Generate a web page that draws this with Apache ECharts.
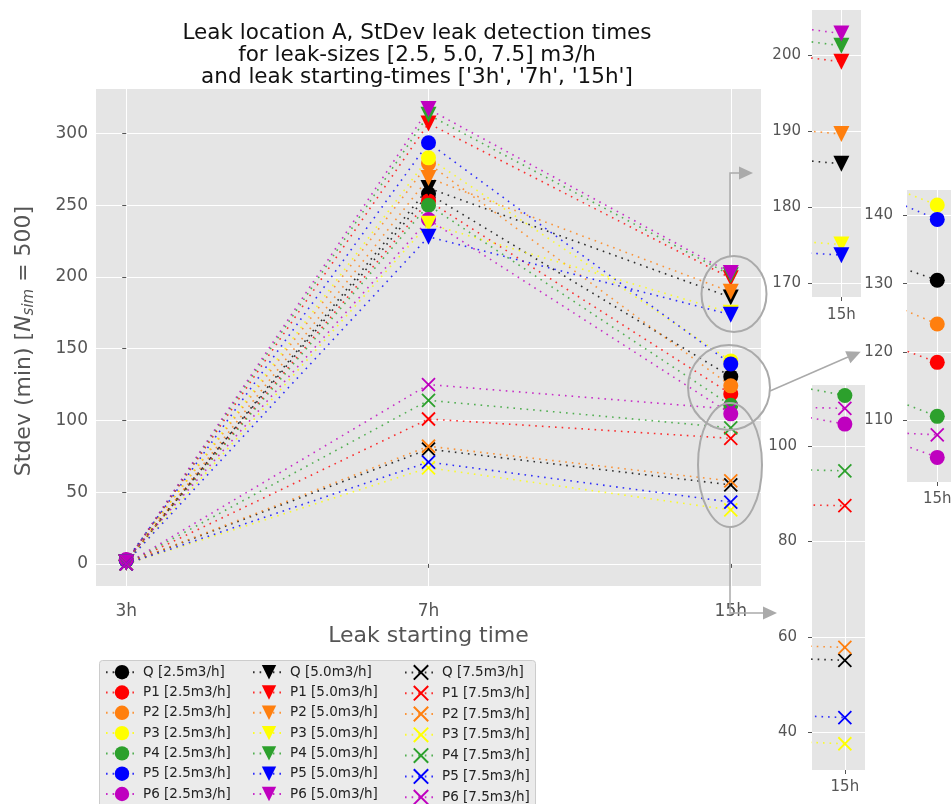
<!DOCTYPE html>
<html>
<head>
<meta charset="utf-8">
<script src="https://cdn.jsdelivr.net/npm/echarts@6/dist/echarts.min.js"></script>
<style>
html, body { margin: 0; padding: 0; background: #fff; }
#chart { width: 951px; height: 804px; }
</style>
</head>
<body>
<div id="chart"></div>
<script>
var categories = ['3h', '7h', '15h'];
var sensors = ['Q', 'P1', 'P2', 'P3', 'P4', 'P5', 'P6'];
var leakSizes = ['2.5', '5.0', '7.5'];
var sensorColors = ['#000000', '#ff0000', '#ff7f0e', '#ffff00', '#2ca02c', '#0000ff', '#bf00bf'];

// stdev of detection time (min), per sensor Q..P6, at 3h / 7h / 15h
var sd25 = [[2.5, 258, 130.5], [2.5, 253, 118.5], [2.5, 279, 124.1], [2.5, 283, 141.5],
            [2.5, 250, 110.6], [2.5, 293.5, 139.4], [3, 240, 104.6]];
var sd50 = [[1, 262, 185.7], [1, 307, 199.1], [1, 269, 189.6], [1, 237, 175.1],
            [1, 313, 201.2], [1, 228, 173.7], [1, 317, 202.8]];
var sd75 = [[0, 80, 55.1], [0, 101, 87.5], [0, 82, 57.8], [0, 67, 37.6],
            [0, 114, 94.8], [0, 71, 43.1], [0, 125, 107.9]];

var sdSets = [sd25, sd50, sd75];

// one marker per leak size
var markers = [
    { symbol: 'circle', size: 15, rotate: 0, border: 0 },
    { symbol: 'triangle', size: 16, rotate: 180, border: 0 },
    { symbol: 'path://M0,0L10,10M10,0L0,10', size: 13, rotate: 0, border: 1.8 }
];

// main plot + the 3 zoomed insets (triangles, circles, crosses)
var grids = [
    { left: 96, top: 89, width: 665, height: 497 },
    { left: 812, top: 10, width: 49, height: 287 },
    { left: 907, top: 190, width: 44, height: 292 },
    { left: 812, top: 385, width: 53, height: 385 }
];
var xRanges = [[-0.1, 2.1], [1.9955, 2.003], [1.9879, 2.0055], [1.9907, 2.0057]];
var yRanges = [[-15.4, 331], [168.2, 205.9], [101.0, 143.7], [32.1, 112.8]];
var yStep = [50, 10, 10, 20];
var yLabelMargin = [8, 11, 14, 15];
var xLabelMargin = [17, 11, 10, 10];

function xLabel(v) {
    return (Math.round(v) === v && categories[v] !== undefined) ? categories[v] : '';
}
function yLabel(v) {
    return (Math.round(v) === v && v % 10 === 0) ? String(v) : '';
}
function ticksIn(range, step) {
    var out = [];
    for (var t = Math.ceil(range[0] / step) * step; t <= range[1]; t += step) out.push(t);
    return out;
}

var myChart = echarts.init(document.getElementById('chart'), null, { renderer: 'canvas' });

var gridList = [], xAxes = [], yAxes = [], series = [];
grids.forEach(function (g, gi) {
    gridList.push({
        left: g.left, top: g.top, width: g.width, height: g.height,
        show: true, backgroundColor: '#e5e5e5', borderWidth: 0,
        containLabel: false, outerBoundsMode: 'none'
    });
    var fs = gi === 0 ? 17 : 15;
    xAxes.push({
        type: 'value', gridIndex: gi,
        min: xRanges[gi][0], max: xRanges[gi][1],
        splitNumber: gi === 0 ? 2 : 1,
        axisLine: { show: false },
        axisTick: { show: true, length: 4, lineStyle: { color: '#555' }, customValues: ticksIn(xRanges[gi], 1) },
        axisLabel: { formatter: xLabel, color: '#555', fontSize: fs, margin: xLabelMargin[gi] },
        splitLine: { show: true, lineStyle: { color: '#fff', width: 1 } },
        name: gi === 0 ? 'Leak starting time' : '',
        nameLocation: 'middle', nameGap: 38,
        nameTextStyle: { color: '#555', fontSize: 22 }
    });
    yAxes.push({
        type: 'value', gridIndex: gi,
        min: yRanges[gi][0], max: yRanges[gi][1],
        splitNumber: gi === 0 ? 7 : 4,
        axisLine: { show: false },
        axisTick: { show: true, length: 4, lineStyle: { color: '#555' }, customValues: ticksIn(yRanges[gi], yStep[gi]) },
        axisLabel: { formatter: yLabel, color: '#555', fontSize: fs, margin: yLabelMargin[gi] },
        splitLine: { show: true, lineStyle: { color: '#fff', width: 1 } }
    });

    sdSets.forEach(function (set, si) {
        var m = markers[si];
        set.forEach(function (vals, i) {
            var c = sensorColors[i];
            series.push({
                type: 'line',
                name: sensors[i] + ' [' + leakSizes[si] + 'm3/h]',
                xAxisIndex: gi, yAxisIndex: gi,
                data: vals.map(function (v, k) { return [k, v]; }),
                symbol: m.symbol, symbolSize: m.size, symbolRotate: m.rotate,
                showSymbol: true, clip: true, silent: true,
                lineStyle: { color: c, width: 1.6, type: [1.6, 5], opacity: 0.8 },
                itemStyle: { color: c, borderColor: c, borderWidth: m.border },
                emphasis: { disabled: true }
            });
        });
    });
});

// the cross column gets a smaller gap, its stroked icons are a bit taller
function legendFor(si, left, top, gap) {
    return {
        orient: 'vertical', left: left, top: top, height: 300, padding: 0,
        itemWidth: 32, itemHeight: 18, itemGap: gap,
        selectedMode: false,
        data: sensors.map(function (n) { return n + ' [' + leakSizes[si] + 'm3/h]'; }),
        textStyle: { fontSize: 13.5, color: '#222' }
    };
}

var grey = '#aaaaaa';
option = {
    animation: false,
    textStyle: { fontFamily: 'DejaVu Sans' },
    title: {
        text: 'Leak location A, StDev leak detection times\nfor leak-sizes [2.5, 5.0, 7.5] m3/h\nand leak starting-times [\'3h\', \'7h\', \'15h\']',
        left: 417, top: 22, textAlign: 'center', padding: 0,
        textStyle: { fontSize: 21.5, fontWeight: 'normal', color: '#111', lineHeight: 22 }
    },
    legend: [legendFor(0, 105, 665, 5.9), legendFor(1, 252, 665, 5.9), legendFor(2, 404, 664.2, 4.4)],
    grid: gridList,
    xAxis: xAxes,
    yAxis: yAxes,
    series: series,
    graphic: [
        { type: 'rect', z: 1, shape: { x: 99.5, y: 660.5, width: 436, height: 150, r: 3 },
          style: { fill: '#ebebeb', stroke: '#cccccc', lineWidth: 1 } },
        { type: 'text', x: 24, y: 341, rotation: Math.PI / 2, z: 10,
          style: {
              text: '{a|Stdev (min) [}{n|N}{s|sim}{a| = 500]}',
              align: 'center', verticalAlign: 'middle',
              rich: {
                  a: { fontSize: 22, fill: '#555', fontFamily: 'DejaVu Sans' },
                  n: { fontSize: 22, fill: '#555', fontStyle: 'italic', fontFamily: 'DejaVu Sans' },
                  s: { fontSize: 15, fill: '#555', fontStyle: 'italic', fontFamily: 'DejaVu Sans', padding: [10, 0, 0, 0] }
              }
          } },
        // zoom ellipses and arrows
        { type: 'ellipse', z: 100, shape: { cx: 734, cy: 294, rx: 32.5, ry: 38 },
          style: { fill: 'none', stroke: grey, lineWidth: 2 } },
        { type: 'ellipse', z: 100, shape: { cx: 729, cy: 387.5, rx: 41, ry: 42.5 },
          style: { fill: 'none', stroke: grey, lineWidth: 2 } },
        { type: 'ellipse', z: 100, shape: { cx: 730, cy: 465, rx: 32, ry: 62 },
          style: { fill: 'none', stroke: grey, lineWidth: 2 } },
        { type: 'polyline', z: 100, shape: { points: [[730, 256], [730, 173], [741, 173]] },
          style: { fill: 'none', stroke: grey, lineWidth: 1.5 } },
        { type: 'polygon', z: 100, shape: { points: [[739, 166.5], [753, 173], [739, 179.5]] },
          style: { fill: grey } },
        { type: 'polyline', z: 100, shape: { points: [[770, 391], [848, 357]] },
          style: { fill: 'none', stroke: grey, lineWidth: 1.5 } },
        { type: 'polygon', z: 100, shape: { points: [[850.4, 363.3], [860.7, 351.7], [845.2, 351.3]] },
          style: { fill: grey } },
        { type: 'polyline', z: 100, shape: { points: [[730, 527], [730, 613], [765, 613]] },
          style: { fill: 'none', stroke: grey, lineWidth: 1.5 } },
        { type: 'polygon', z: 100, shape: { points: [[763, 606.5], [777, 613], [763, 619.5]] },
          style: { fill: grey } }
    ]
};

myChart.setOption(option);
</script>
</body>
</html>
